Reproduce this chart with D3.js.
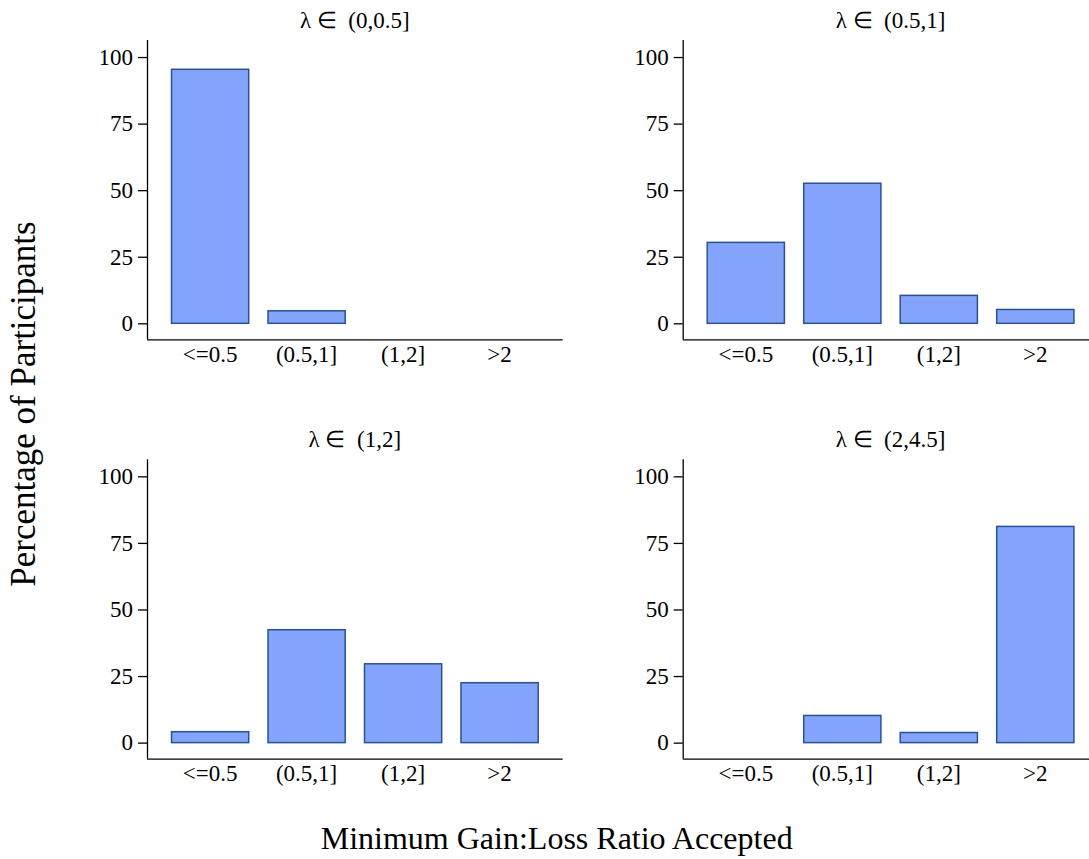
<!DOCTYPE html>
<html>
<head>
<meta charset="utf-8">
<script src="https://cdn.jsdelivr.net/npm/d3@7"></script>
<style>
  body { margin: 0; background: #fff; }
  svg text { font-family: "Liberation Serif", "Times New Roman", serif; fill: #000; }
</style>
</head>
<body>
<script>
// categories and panel data
var categories = ["<=0.5", "(0.5,1]", "(1,2]", ">2"];
var panelTitles = ["λ ∈  (0,0.5]", "λ ∈  (0.5,1]", "λ ∈  (1,2]", "λ ∈  (2,4.5]"];
var valuesP1 = [95.4, 4.7, 0, 0];
var valuesP2 = [30.4, 52.6, 10.5, 5.2];
var valuesP3 = [4.1, 42.4, 29.6, 22.5];
var valuesP4 = [0, 10.2, 3.8, 81.2];
var yTicks = [0, 25, 50, 75, 100];
var panelValues = [valuesP1, valuesP2, valuesP3, valuesP4];

var width = 1089,
    height = 859;

var svg = d3.select("body").append("svg")
    .attr("width", width)
    .attr("height", height);

// panel geometry
var plotW = 415.7,
    plotH = 299.3;
var lefts = [147, 682.7],
    tops = [40, 459.3];

var fillColor = "#84a4fc",
    strokeColor = "#2b5290";

panelValues.forEach(function(vals, i) {
  var x0 = lefts[i % 2],
      y0 = tops[Math.floor(i / 2)];

  var g = svg.append("g")
      .attr("transform", "translate(" + x0 + "," + y0 + ")");

  var x = d3.scaleBand()
      .domain(categories)
      .range([0, plotW])
      .paddingInner(0.2)
      .paddingOuter(0.254);

  var y = d3.scaleLinear()
      .domain([-6, 106.4])
      .range([plotH, 0]);

  // bars (zero values are not drawn)
  g.selectAll("rect")
    .data(categories.map(function(c, j) { return {cat: c, v: vals[j]}; }).filter(function(d) { return d.v > 0; }))
    .enter().append("rect")
      .attr("x", function(d) { return x(d.cat); })
      .attr("width", x.bandwidth())
      .attr("y", function(d) { return y(d.v); })
      .attr("height", function(d) { return y(0) - y(d.v); })
      .attr("fill", fillColor)
      .attr("stroke", strokeColor)
      .attr("stroke-width", 1.5);

  // y axis
  var ya = g.append("g")
      .call(d3.axisLeft(y).tickValues(yTicks).tickSize(9).tickPadding(5));
  ya.select(".domain").attr("d", "M0.5,0V" + plotH).attr("stroke", "#000").attr("stroke-width", 1.3);
  ya.selectAll(".tick line").attr("stroke", "#000").attr("stroke-width", 1.3);
  ya.selectAll(".tick text")
      .style("font-size", "23px")
      .attr("font-family", null);

  // x axis
  var xa = g.append("g")
      .attr("transform", "translate(0," + plotH + ")")
      .call(d3.axisBottom(x).tickSize(0).tickPadding(6));
  xa.select(".domain").attr("d", "M0," + 0.5 + "H" + plotW).attr("stroke", "#000").attr("stroke-width", 1.3);
  xa.selectAll(".tick text")
      .style("font-size", "23px")
      .attr("font-family", null);

  // panel title
  g.append("text")
      .attr("x", plotW / 2)
      .attr("y", -12)
      .attr("text-anchor", "middle")
      .style("font-size", "23px")
      .style("white-space", "pre")
      .text(panelTitles[i]);
});

// shared axis titles
svg.append("text")
    .attr("x", 556.7)
    .attr("y", 849)
    .attr("text-anchor", "middle")
    .style("font-size", "32px")
    .text("Minimum Gain:Loss Ratio Accepted");

svg.append("text")
    .attr("transform", "translate(35,404) rotate(-90)")
    .attr("text-anchor", "middle")
    .style("font-size", "35px")
    .text("Percentage of Participants");
</script>
</body>
</html>
